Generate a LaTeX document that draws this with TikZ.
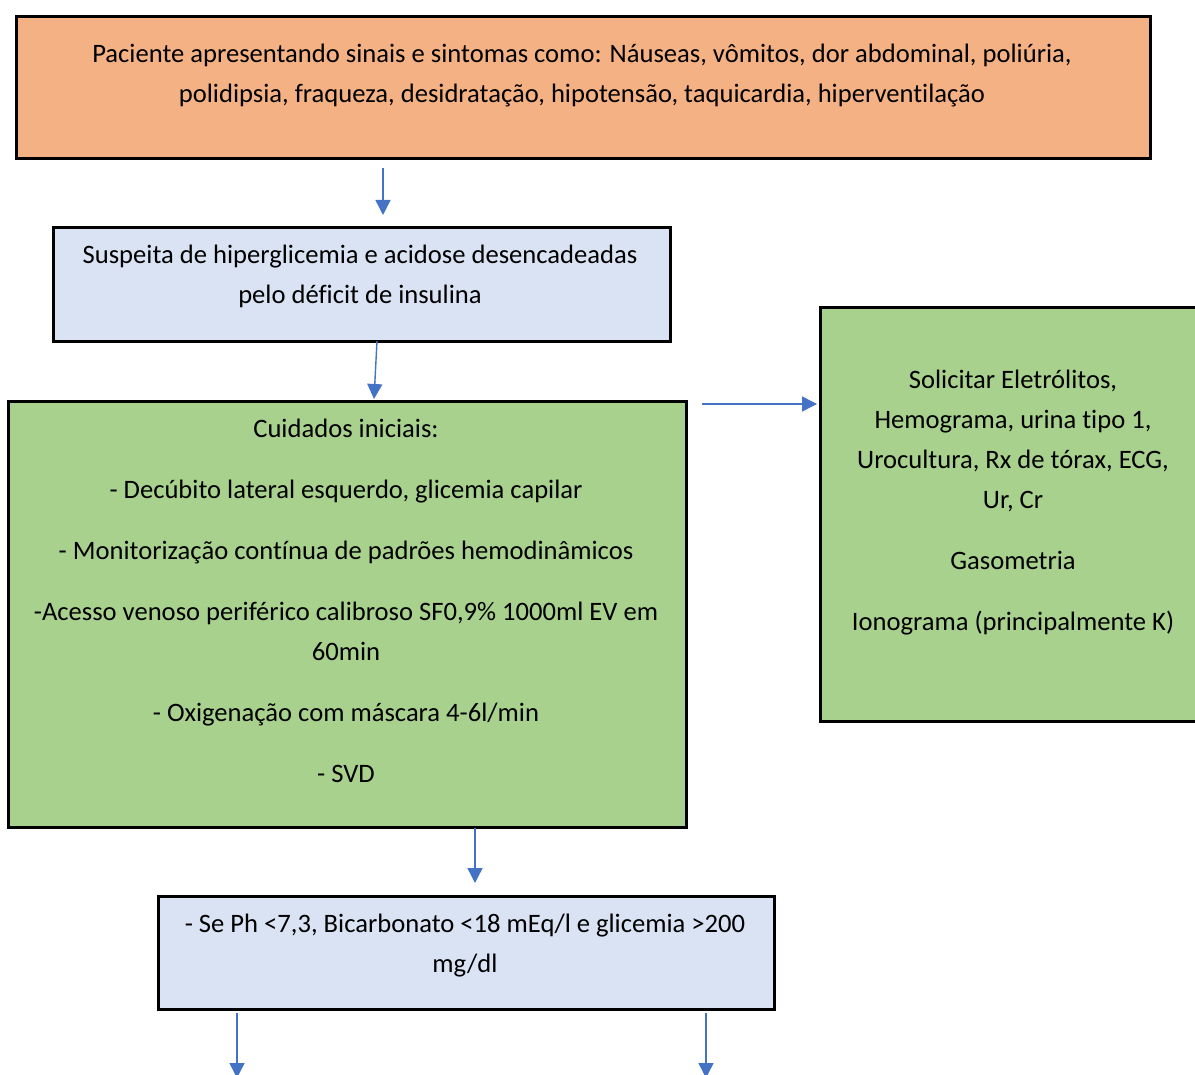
\documentclass[tikz,border=0pt]{standalone}
\usepackage{fontspec}
\setmainfont{Carlito}[Ligatures={NoCommon}]
\usetikzlibrary{arrows.meta}
\definecolor{orangefill}{HTML}{F4B183}
\definecolor{bluefill}{HTML}{DAE3F3}
\definecolor{greenfill}{HTML}{A9D18E}
\definecolor{arrowblue}{HTML}{4472C4}
\tikzset{
  box/.style={draw=black, line width=2.6pt, inner sep=0pt, anchor=north west},
  txt/.style={align=center, inner sep=0pt, anchor=north,
    font=\fontsize{26.6}{40}\selectfont},
  flow/.style={draw=arrowblue, line width=1.4pt,
    -{Triangle[length=15pt, width=15pt]}}
}
\newcommand{\pgap}{\\[21pt]}
\begin{document}
\begin{tikzpicture}[x=1pt, y=-1pt]
\useasboundingbox[fill=white] (0,0) rectangle (1195,1075);

% boxes
\node[box, fill=orangefill, minimum width=1134pt, minimum height=142pt] (sintomas) at (15,15) {};
\node[box, fill=bluefill, minimum width=617pt, minimum height=114pt] (suspeita) at (52,226) {};
\node[box, fill=greenfill, minimum width=678pt, minimum height=426pt] (cuidados) at (7,400) {};
\node[box, fill=greenfill, minimum width=390pt, minimum height=414pt] (exames) at (819,306) {};
\node[box, fill=bluefill, minimum width=616pt, minimum height=113pt] (criterios) at (157,895) {};

% texts
\node[txt] (tsintomas) at (582,44) {Paciente apresentando sinais e sintomas como: Náuseas, vômitos, dor abdominal, poliúria,\\
polidipsia, fraqueza, desidratação, hipotensão, taquicardia, hiperventilação};
\node[txt] (tsuspeita) at (360,245) {Suspeita de hiperglicemia e acidose desencadeadas\\ pelo déficit de insulina};
\node[txt] (tcuidados) at (346,419) {Cuidados iniciais:\pgap
- Decúbito lateral esquerdo, glicemia capilar\pgap
- Monitorização contínua de padrões hemodinâmicos\pgap
-Acesso venoso periférico calibroso SF0,9\% 1000ml EV em\\ 60min\pgap
- Oxigenação com máscara 4-6l/min\pgap
- SVD};
\node[txt] (texames) at (1013,370) {Solicitar Eletrólitos,\\ Hemograma, urina tipo 1,\\ Urocultura, Rx de tórax, ECG,\\ Ur, Cr\pgap
Gasometria\pgap
Ionograma (principalmente K)};
\node[txt] (tcriterios) at (465,914) {- Se Ph <7,3, Bicarbonato <18 mEq/l e glicemia >200\\ mg/dl};

% connector end points
\coordinate (a1s) at (383,168);  \coordinate (a1e) at (383,215);
\coordinate (a2s) at (377,341);  \coordinate (a2e) at (374,399);
\coordinate (a3s) at (702,404);  \coordinate (a3e) at (817,404);
\coordinate (a4s) at (475,828);  \coordinate (a4e) at (475,883);
\coordinate (a5s) at (237,1013); \coordinate (a5e) at (237,1078);
\coordinate (a6s) at (706,1013); \coordinate (a6e) at (706,1078);

\draw[flow] (a1s) -- (a1e);
\draw[flow] (a2s) -- (a2e);
\draw[flow] (a3s) -- (a3e);
\draw[flow] (a4s) -- (a4e);
\draw[flow] (a5s) -- (a5e);
\draw[flow] (a6s) -- (a6e);
\end{tikzpicture}
\end{document}
